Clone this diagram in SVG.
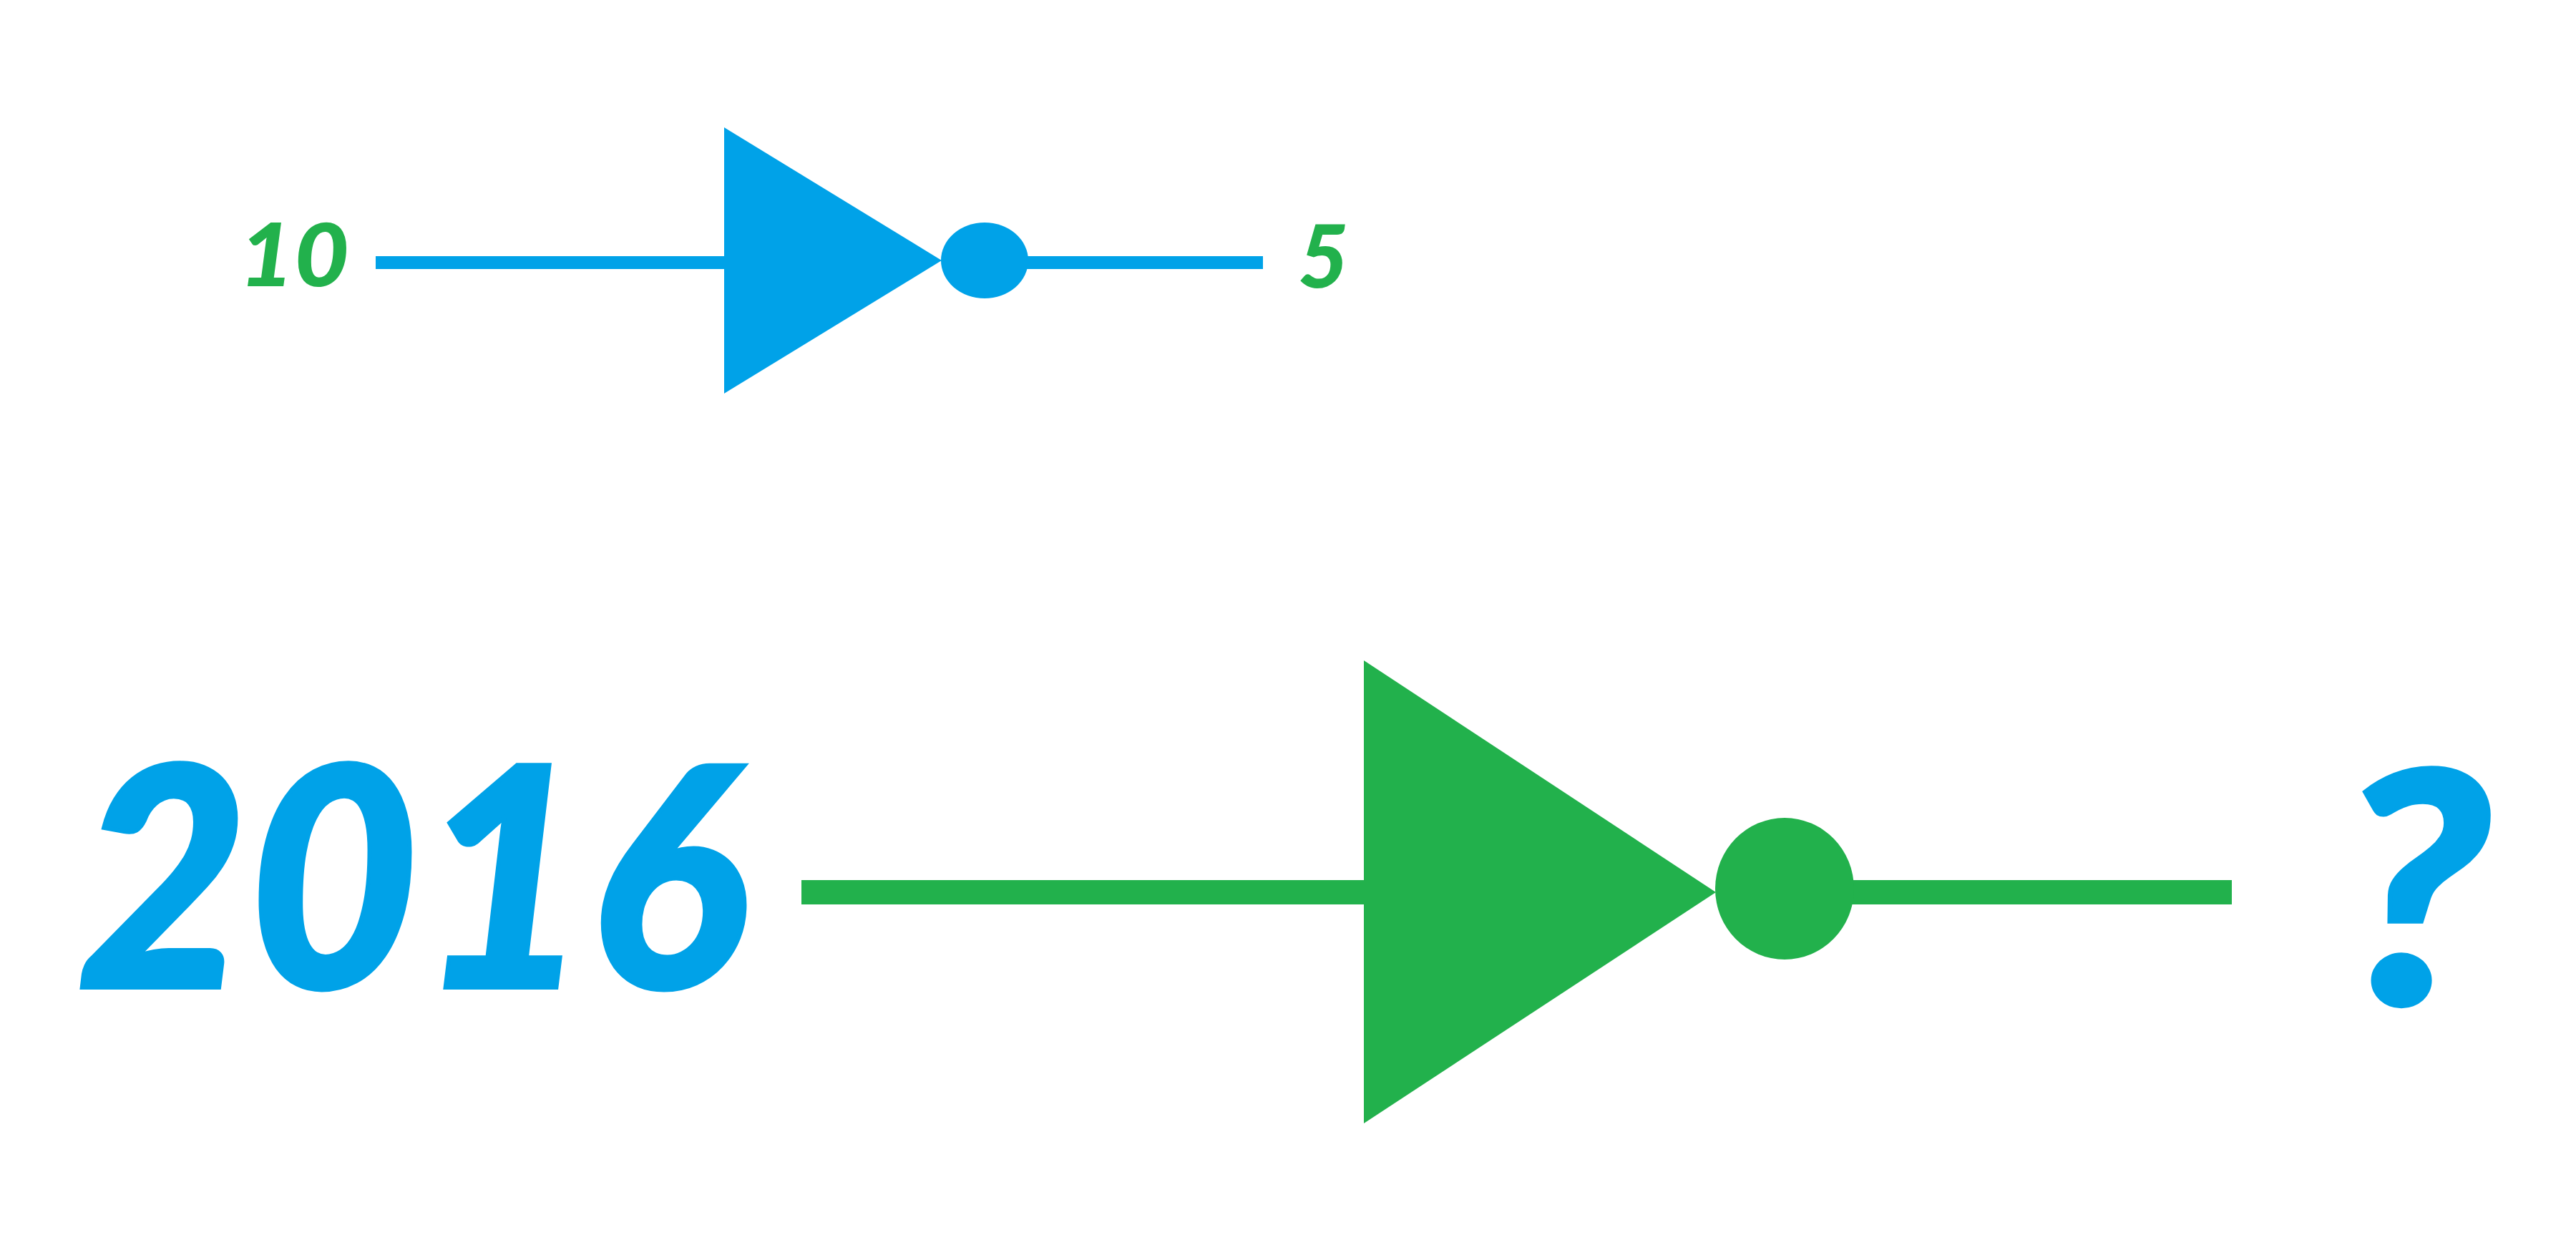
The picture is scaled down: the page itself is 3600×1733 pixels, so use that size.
<svg xmlns="http://www.w3.org/2000/svg" width="3600" height="1733" viewBox="0 0 3600 1733">
<style>
.t{font-family:"Lato","Liberation Sans",sans-serif;font-style:italic;font-weight:900}
.b{fill:#00a2e8}.g{fill:#22b14c}
.s{stroke:#00a2e8;stroke-width:6}
</style>
<rect width="3600" height="1733" fill="#fff"/>
<g id="connectors">
<rect class="b" x="525" y="358" width="490" height="18"/>
<rect class="b" x="1430" y="358" width="335" height="18"/>
<rect class="g" x="1120" y="1230" width="800" height="34"/>
<rect class="g" x="2580" y="1230" width="539" height="34"/>
</g>
<g id="small-gate">
<polygon class="b" points="1012,178 1012,550 1316,364"/>
<ellipse class="b" cx="1376" cy="364" rx="61" ry="53"/>
</g>
<g id="large-gate">
<polygon class="g" points="1906,923 1906,1570 2398,1247"/>
<ellipse class="g" cx="2494" cy="1242" rx="97" ry="99"/>
</g>
<g id="labels">
<text id="l10" class="t g" x="334" y="400" font-size="122" textLength="154" lengthAdjust="spacingAndGlyphs">10</text>
<text id="l5" class="t g" x="1814" y="402" font-size="122">5</text>
<text id="l2016" class="t b s" x="108" y="1380" font-size="428" textLength="935" lengthAdjust="spacingAndGlyphs">2016</text>
<text id="lq" class="t b s" x="3270" y="1403" font-size="450" textLength="210" lengthAdjust="spacingAndGlyphs">?</text>
</g>
</svg>
